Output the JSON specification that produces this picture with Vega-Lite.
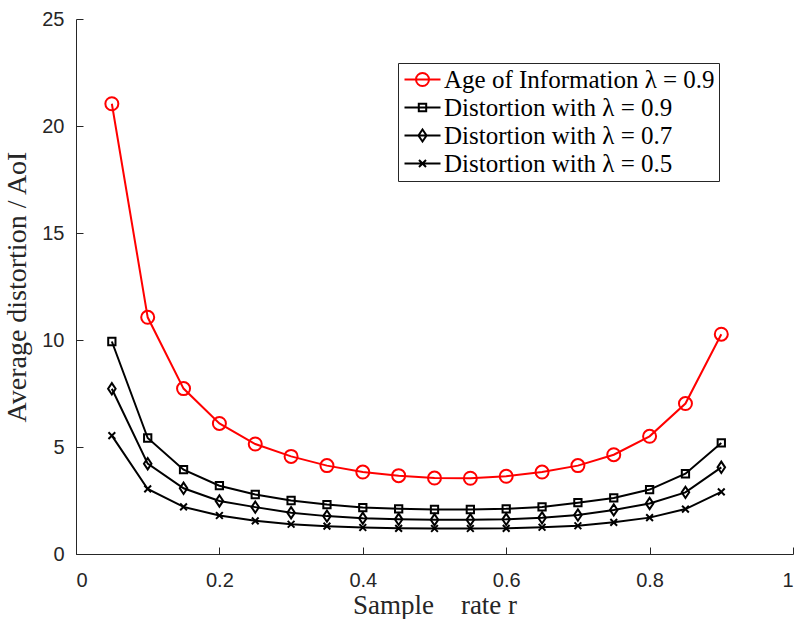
{
  "$schema": "https://vega.github.io/schema/vega-lite/v6.json",
  "width": 717,
  "height": 535,
  "autosize": {"type": "none"},
  "padding": {"left": 76, "top": 19, "right": 1, "bottom": 65},
  "background": "white",
  "config": {"view": {"stroke": null}},
  "data": {"values": [
    {"r":0.05,"series":"Age of Information λ = 0.9","value":21.04},
    {"r":0.10,"series":"Age of Information λ = 0.9","value":11.06},
    {"r":0.15,"series":"Age of Information λ = 0.9","value":7.73},
    {"r":0.20,"series":"Age of Information λ = 0.9","value":6.10},
    {"r":0.25,"series":"Age of Information λ = 0.9","value":5.14},
    {"r":0.30,"series":"Age of Information λ = 0.9","value":4.56},
    {"r":0.35,"series":"Age of Information λ = 0.9","value":4.13},
    {"r":0.40,"series":"Age of Information λ = 0.9","value":3.83},
    {"r":0.45,"series":"Age of Information λ = 0.9","value":3.66},
    {"r":0.50,"series":"Age of Information λ = 0.9","value":3.55},
    {"r":0.55,"series":"Age of Information λ = 0.9","value":3.54},
    {"r":0.60,"series":"Age of Information λ = 0.9","value":3.63},
    {"r":0.65,"series":"Age of Information λ = 0.9","value":3.83},
    {"r":0.70,"series":"Age of Information λ = 0.9","value":4.13},
    {"r":0.75,"series":"Age of Information λ = 0.9","value":4.64},
    {"r":0.80,"series":"Age of Information λ = 0.9","value":5.50},
    {"r":0.85,"series":"Age of Information λ = 0.9","value":7.03},
    {"r":0.90,"series":"Age of Information λ = 0.9","value":10.27},
    {"r":0.05,"series":"Distortion with λ = 0.9","value":9.93},
    {"r":0.10,"series":"Distortion with λ = 0.9","value":5.42},
    {"r":0.15,"series":"Distortion with λ = 0.9","value":3.94},
    {"r":0.20,"series":"Distortion with λ = 0.9","value":3.19},
    {"r":0.25,"series":"Distortion with λ = 0.9","value":2.78},
    {"r":0.30,"series":"Distortion with λ = 0.9","value":2.50},
    {"r":0.35,"series":"Distortion with λ = 0.9","value":2.31},
    {"r":0.40,"series":"Distortion with λ = 0.9","value":2.17},
    {"r":0.45,"series":"Distortion with λ = 0.9","value":2.11},
    {"r":0.50,"series":"Distortion with λ = 0.9","value":2.08},
    {"r":0.55,"series":"Distortion with λ = 0.9","value":2.08},
    {"r":0.60,"series":"Distortion with λ = 0.9","value":2.11},
    {"r":0.65,"series":"Distortion with λ = 0.9","value":2.20},
    {"r":0.70,"series":"Distortion with λ = 0.9","value":2.40},
    {"r":0.75,"series":"Distortion with λ = 0.9","value":2.62},
    {"r":0.80,"series":"Distortion with λ = 0.9","value":3.01},
    {"r":0.85,"series":"Distortion with λ = 0.9","value":3.75},
    {"r":0.90,"series":"Distortion with λ = 0.9","value":5.19},
    {"r":0.05,"series":"Distortion with λ = 0.7","value":7.72},
    {"r":0.10,"series":"Distortion with λ = 0.7","value":4.22},
    {"r":0.15,"series":"Distortion with λ = 0.7","value":3.07},
    {"r":0.20,"series":"Distortion with λ = 0.7","value":2.48},
    {"r":0.25,"series":"Distortion with λ = 0.7","value":2.19},
    {"r":0.30,"series":"Distortion with λ = 0.7","value":1.93},
    {"r":0.35,"series":"Distortion with λ = 0.7","value":1.77},
    {"r":0.40,"series":"Distortion with λ = 0.7","value":1.67},
    {"r":0.45,"series":"Distortion with λ = 0.7","value":1.62},
    {"r":0.50,"series":"Distortion with λ = 0.7","value":1.60},
    {"r":0.55,"series":"Distortion with λ = 0.7","value":1.60},
    {"r":0.60,"series":"Distortion with λ = 0.7","value":1.62},
    {"r":0.65,"series":"Distortion with λ = 0.7","value":1.69},
    {"r":0.70,"series":"Distortion with λ = 0.7","value":1.82},
    {"r":0.75,"series":"Distortion with λ = 0.7","value":2.06},
    {"r":0.80,"series":"Distortion with λ = 0.7","value":2.36},
    {"r":0.85,"series":"Distortion with λ = 0.7","value":2.88},
    {"r":0.90,"series":"Distortion with λ = 0.7","value":4.05},
    {"r":0.05,"series":"Distortion with λ = 0.5","value":5.53},
    {"r":0.10,"series":"Distortion with λ = 0.5","value":3.04},
    {"r":0.15,"series":"Distortion with λ = 0.5","value":2.20},
    {"r":0.20,"series":"Distortion with λ = 0.5","value":1.80},
    {"r":0.25,"series":"Distortion with λ = 0.5","value":1.55},
    {"r":0.30,"series":"Distortion with λ = 0.5","value":1.39},
    {"r":0.35,"series":"Distortion with λ = 0.5","value":1.30},
    {"r":0.40,"series":"Distortion with λ = 0.5","value":1.24},
    {"r":0.45,"series":"Distortion with λ = 0.5","value":1.20},
    {"r":0.50,"series":"Distortion with λ = 0.5","value":1.19},
    {"r":0.55,"series":"Distortion with λ = 0.5","value":1.19},
    {"r":0.60,"series":"Distortion with λ = 0.5","value":1.20},
    {"r":0.65,"series":"Distortion with λ = 0.5","value":1.25},
    {"r":0.70,"series":"Distortion with λ = 0.5","value":1.32},
    {"r":0.75,"series":"Distortion with λ = 0.5","value":1.48},
    {"r":0.80,"series":"Distortion with λ = 0.5","value":1.70},
    {"r":0.85,"series":"Distortion with λ = 0.5","value":2.10},
    {"r":0.90,"series":"Distortion with λ = 0.5","value":2.90}
  ]},
  "encoding": {
    "x": {
      "field": "r", "type": "quantitative",
      "scale": {"domain": [0, 1], "nice": false, "zero": false},
      "axis": {
        "values": [0, 0.2, 0.4, 0.6, 0.8, 1],
        "labelExpr": "'' + datum.value",
        "title": "Sample\u00a0\u00a0\u00a0\u00a0rate r",
        "titleFont": "Liberation Serif", "titleFontSize": 27, "titleFontWeight": "normal", "titleColor": "#262626",
        "titlePadding": 2,
        "labelFont": "Liberation Sans", "labelFontSize": 20, "labelColor": "#262626",
        "labelPadding": 23,
        "domainColor": "#262626", "tickColor": "#262626", "tickSize": -7, "grid": false
      }
    },
    "y": {
      "field": "value", "type": "quantitative",
      "scale": {"domain": [0, 25], "nice": false},
      "axis": {
        "values": [0, 5, 10, 15, 20, 25],
        "title": "Average distortion / AoI",
        "titleFont": "Liberation Serif", "titleFontSize": 28, "titleFontWeight": "normal", "titleColor": "#262626",
        "titlePadding": 10,
        "labelFont": "Liberation Sans", "labelFontSize": 20, "labelColor": "#262626",
        "labelPadding": 19,
        "domainColor": "#262626", "tickColor": "#262626", "tickSize": -7, "grid": false
      }
    }
  },
  "layer": [
    {
      "mark": {"type": "line", "strokeWidth": 2},
      "encoding": {
        "color": {
          "field": "series", "type": "nominal",
          "scale": {
            "domain": ["Age of Information λ = 0.9", "Distortion with λ = 0.9", "Distortion with λ = 0.7", "Distortion with λ = 0.5"],
            "range": ["#ff0000", "#000000", "#000000", "#000000"]
          },
          "legend": {
            "orient": "none", "legendX": 322, "legendY": 44,
            "title": null,
            "symbolSize": 169, "symbolStrokeWidth": 2, "symbolFillColor": "transparent",
            "symbolType": {"expr": "indexof(datum.value,'Age')>=0 ? 'M-1.54,0L4.0,0M2.23,0A1,1 0 1,1 0.23,0A1,1 0 1,1 2.23,0' : indexof(datum.value,'0.9')>=0 ? 'M-1.54,0L4.0,0M0.66,-0.57L1.8,-0.57L1.8,0.57L0.66,0.57Z' : indexof(datum.value,'0.7')>=0 ? 'M-1.54,0L4.0,0M1.23,-0.92L1.85,0L1.23,0.92L0.61,0Z' : 'M-1.54,0L4.0,0M0.69,-0.54L1.77,0.54M0.69,0.54L1.77,-0.54'"},
            "labelFont": "Liberation Serif", "labelFontSize": 25, "labelColor": "#000000", "labelLimit": 0,
            "labelOffset": 17,
            "padding": 4, "rowPadding": 2,
            "strokeColor": "#262626", "fillColor": "white"
          }
        }
      }
    },
    {
      "transform": [{"filter": "datum.series === 'Age of Information λ = 0.9'"}],
      "mark": {"type": "point", "filled": false, "strokeWidth": 2, "size": 169, "opacity": 1, "shape": "circle", "color": "#ff0000"}
    },
    {
      "transform": [{"filter": "datum.series === 'Distortion with λ = 0.9'"}],
      "mark": {"type": "point", "filled": false, "strokeWidth": 2, "size": 169, "opacity": 1, "shape": "M-0.56,-0.56L0.56,-0.56L0.56,0.56L-0.56,0.56Z", "color": "#000000"}
    },
    {
      "transform": [{"filter": "datum.series === 'Distortion with λ = 0.7'"}],
      "mark": {"type": "point", "filled": false, "strokeWidth": 2, "size": 169, "opacity": 1, "shape": "M0,-0.87L0.58,0L0,0.87L-0.58,0Z", "color": "#000000"}
    },
    {
      "transform": [{"filter": "datum.series === 'Distortion with λ = 0.5'"}],
      "mark": {"type": "point", "filled": false, "strokeWidth": 2, "size": 169, "opacity": 1, "shape": "M-0.52,-0.52L0.52,0.52M-0.52,0.52L0.52,-0.52", "color": "#000000"}
    }
  ]
}
